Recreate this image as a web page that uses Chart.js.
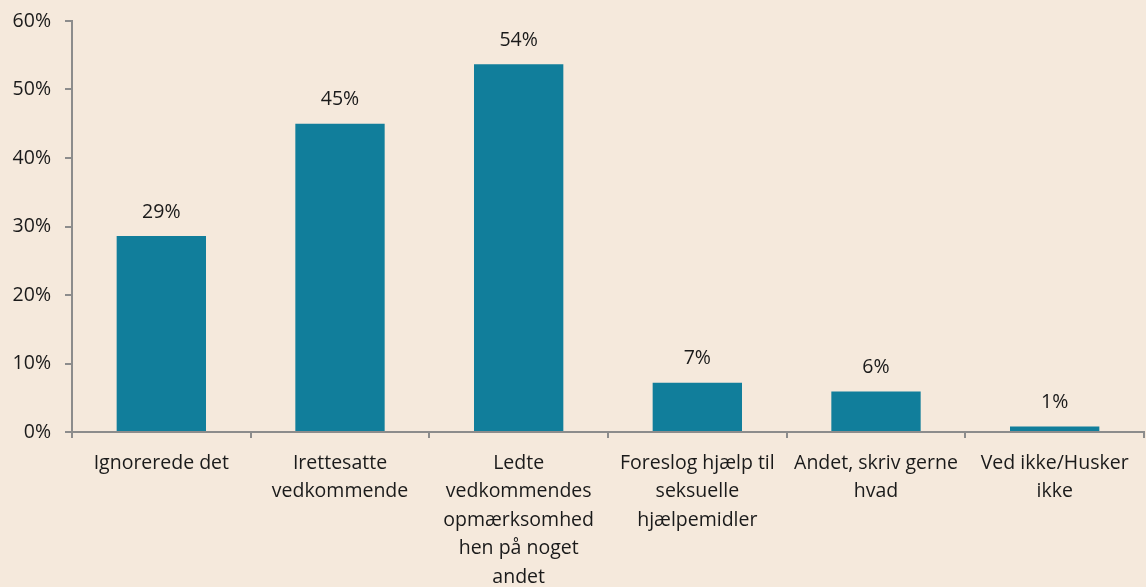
<!DOCTYPE html>
<html>
<head>
<meta charset="utf-8">
<script src="https://cdn.jsdelivr.net/npm/chart.js@4.4.0/dist/chart.umd.min.js"></script>
<style>
  html, body { margin: 0; padding: 0; background: #f5e9dc; }
  #wrap { width: 1146px; height: 587px; }
</style>
</head>
<body>
<div id="wrap"><canvas id="barChart" width="1146" height="587"></canvas></div>
<script>
const categories = [
  "Ignorerede det",
  ["Irettesatte", "vedkommende"],
  ["Ledte", "vedkommendes", "opmærksomhed", "hen på noget", "andet"],
  ["Foreslog hjælp til", "seksuelle", "hjælpemidler"],
  ["Andet, skriv gerne", "hvad"],
  ["Ved ikke/Husker", "ikke"]
];
const values = [28.6, 45, 53.7, 7.2, 5.9, 0.8];
const valueLabels = ["29%", "45%", "54%", "7%", "6%", "1%"];
const yTicks = [0, 10, 20, 30, 40, 50, 60];

const fontFamily = "'Open Sans', 'Noto Sans', sans-serif";
const fontSize = 19.5;
const axisColor = "#8c8c8c";

// draws the percent text above each bar
const barLabels = {
  id: "barLabels",
  afterDatasetsDraw(chart) {
    const ctx = chart.ctx;
    const meta = chart.getDatasetMeta(0);
    ctx.save();
    ctx.font = fontSize + "px " + fontFamily;
    ctx.fillStyle = "#1a1a1a";
    ctx.textAlign = "center";
    ctx.textBaseline = "middle";
    meta.data.forEach((bar, i) => {
      ctx.fillText(valueLabels[i], bar.x, bar.y - 24);
    });
    ctx.restore();
  }
};

new Chart(document.getElementById("barChart").getContext("2d"), {
  type: "bar",
  data: {
    labels: categories,
    datasets: [
      {
        data: values,
        backgroundColor: "#117e9b",
        barPercentage: 0.5,
        categoryPercentage: 1,
      },
    ],
  },
  options: {
    responsive: false,
    animation: false,
    layout: { padding: { top: 21, right: 2, left: 0, bottom: 0 } },
    plugins: {
      legend: { display: false },
      tooltip: { enabled: false },
    },
    scales: {
      x: {
        grid: { drawOnChartArea: false, color: axisColor, tickLength: 6, lineWidth: 2 },
        border: { color: axisColor, width: 2 },
        ticks: {
          color: "#1a1a1a",
          font: { size: fontSize, family: fontFamily, lineHeight: 1.46 },
          padding: 11,
          maxRotation: 0,
          autoSkip: false,
        },
        afterFit(scale) { scale.height = 155; },
      },
      y: {
        min: 0,
        max: 60,
        afterBuildTicks(scale) { scale.ticks = yTicks.map(v => ({ value: v })); },
        grid: { drawOnChartArea: false, color: axisColor, tickLength: 7, lineWidth: 2 },
        border: { color: axisColor, width: 2 },
        ticks: {
          color: "#1a1a1a",
          font: { size: fontSize, family: fontFamily },
          padding: 14,
          callback: v => v + "%",
        },
        afterFit(scale) {
          scale.width = 72;
          scale.paddingTop = 0;
        },
      },
    },
  },
  plugins: [barLabels],
});
</script>
</body>
</html>
